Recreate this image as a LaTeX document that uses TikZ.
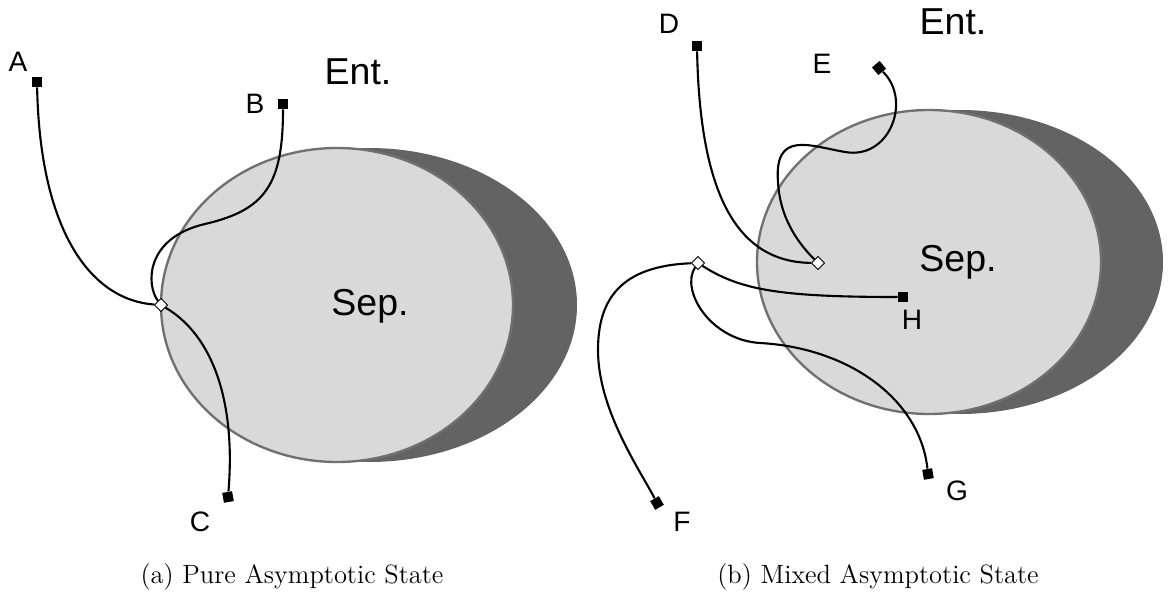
\documentclass[tikz,border=0pt]{standalone}
\usepackage{fontspec}
\newfontfamily\labelfont{Liberation Sans}
\usetikzlibrary{shapes.geometric}

\definecolor{sepgray}{HTML}{D9D9D9}
\definecolor{entgray}{HTML}{636363}
\definecolor{rimgray}{HTML}{707070}

\tikzset{
  endbox/.style={rectangle,fill=black,inner sep=0pt,minimum size=0.15cm},
  knot/.style={diamond,draw=black,fill=white,line width=0.4pt,inner sep=0pt,minimum size=0.2cm},
  letter/.style={font=\labelfont\fontsize{12}{14}\selectfont},
  region/.style={font=\labelfont\fontsize{16}{18}\selectfont},
  caption/.style={font=\fontsize{11.3}{13}\selectfont},
  path/.style={line width=0.9pt}
}

\begin{document}
\begin{tikzpicture}[x=0.015cm,y=-0.015cm]
\useasboundingbox (0,0) rectangle (1168,597);

% left: pure state
\fill[entgray] (369,305) ellipse (208 and 157);
\filldraw[fill=sepgray,draw=rimgray,line width=1pt] (337,305) ellipse (176 and 157);
\node[region] (ent1) at (358,72) {Ent.};
\node[region] (sep1) at (370,306) {Sep.};

\node[endbox] (A) at (37,82) {};
\node[endbox] (B) at (283,104) {};
\node[endbox,rotate=10] (C) at (228,497) {};
\node[knot] (J1) at (161,305) {};
\coordinate (b1) at (205,224);

\draw[path] (A) .. controls (40,230) and (90,300) .. (J1);
\draw[path] (B) .. controls (283,185) and (265,210) .. (b1)
  .. controls (145,238) and (146,285) .. (J1);
\draw[path] (J1) .. controls (212,335) and (236,400) .. (C);

\node[letter] (lA) at (18,62) {A};
\node[letter] (lB) at (255,104) {B};
\node[letter] (lC) at (200,522) {C};

% right: mixed state
\fill[entgray] (960,262) ellipse (203 and 152);
\filldraw[fill=sepgray,draw=rimgray,line width=1pt] (929,262) ellipse (172 and 152);
\node[region] (ent2) at (953,22) {Ent.};
\node[region] (sep2) at (958,262) {Sep.};

\node[endbox] (D) at (697,46) {};
\node[endbox,rotate=40] (E) at (879,68) {};
\node[endbox,rotate=30] (F) at (657,503) {};
\node[endbox,rotate=10] (G) at (928,474) {};
\node[endbox] (H) at (903,297) {};
\node[knot] (J2) at (818,263) {};
\node[knot] (J3) at (698,263) {};
\coordinate (e1) at (845,152);
\coordinate (e2) at (778,182);
\coordinate (f1) at (598,350);
\coordinate (g1) at (760,343);

\draw[path] (D) .. controls (700,200) and (740,262) .. (J2);
\draw[path] (E) .. controls (912,100) and (890,160) .. (e1)
  .. controls (810,146) and (774,130) .. (e2)
  .. controls (780,220) and (800,245) .. (J2);
\draw[path] (J3) .. controls (740,290) and (780,297) .. (H);
\draw[path] (J3) .. controls (620,266) and (598,300) .. (f1)
  .. controls (598,410) and (640,470) .. (F);
\draw[path] (J3) .. controls (680,290) and (710,340) .. (g1)
  .. controls (850,348) and (920,400) .. (G);

\node[letter] (lD) at (669,24) {D};
\node[letter] (lE) at (822,64) {E};
\node[letter] (lF) at (682,522) {F};
\node[letter] (lG) at (957,491) {G};
\node[letter] (lH) at (912,320) {H};

% captions
\node[caption] (capa) at (292,577) {(a) Pure Asymptotic State};
\node[caption] (capb) at (878,577) {(b) Mixed Asymptotic State};
\end{tikzpicture}
\end{document}
